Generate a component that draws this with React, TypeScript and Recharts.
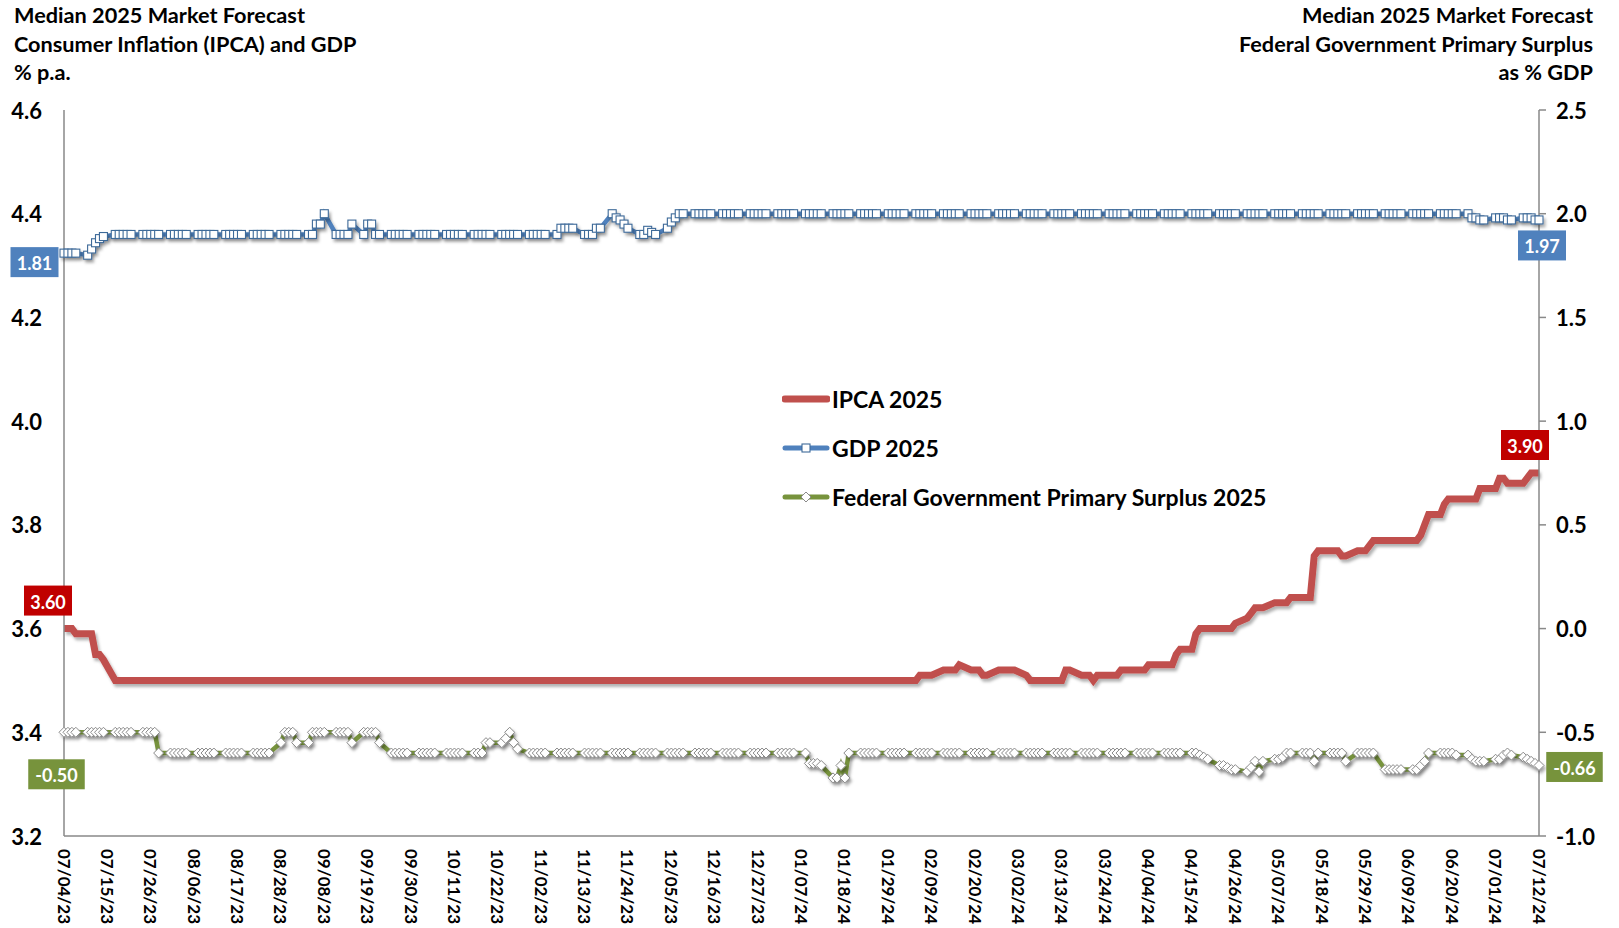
import React from "react";
import { LineChart, Line, XAxis, YAxis, Legend } from "recharts";

const FONT = "Lato, 'Open Sans', Arial, sans-serif";

const tickLabels = [
  "07/04/23", "07/15/23", "07/26/23", "08/06/23", "08/17/23", "08/28/23", "09/08/23",
  "09/19/23", "09/30/23", "10/11/23", "10/22/23", "11/02/23", "11/13/23", "11/24/23",
  "12/05/23", "12/16/23", "12/27/23", "01/07/24", "01/18/24", "01/29/24", "02/09/24",
  "02/20/24", "03/02/24", "03/13/24", "03/24/24", "04/04/24", "04/15/24", "04/26/24",
  "05/07/24", "05/18/24", "05/29/24", "06/09/24", "06/20/24", "07/01/24", "07/12/24",
];

const leftTicks = [3.2, 3.4, 3.6, 3.8, 4.0, 4.2, 4.4, 4.6];
const rightTicks = [-1.0, -0.5, 0.0, 0.5, 1.0, 1.5, 2.0, 2.5];

// one row per week of business days, first week starts Tue 07/04/23
const ipca2025 = [
  3.60, 3.60, 3.60, 3.59,             // 07/04
  3.59, 3.59, 3.55, 3.55, 3.54,       // 07/10
  3.50, 3.50, 3.50, 3.50, 3.50,       // 07/17
  3.50, 3.50, 3.50, 3.50, 3.50,       // 07/24
  3.50, 3.50, 3.50, 3.50, 3.50,       // 07/31
  3.50, 3.50, 3.50, 3.50, 3.50,       // 08/07
  3.50, 3.50, 3.50, 3.50, 3.50,       // 08/14
  3.50, 3.50, 3.50, 3.50, 3.50,       // 08/21
  3.50, 3.50, 3.50, 3.50, 3.50,       // 08/28
  3.50, 3.50, 3.50, 3.50, 3.50,       // 09/04
  3.50, 3.50, 3.50, 3.50, 3.50,       // 09/11
  3.50, 3.50, 3.50, 3.50, 3.50,       // 09/18
  3.50, 3.50, 3.50, 3.50, 3.50,       // 09/25
  3.50, 3.50, 3.50, 3.50, 3.50,       // 10/02
  3.50, 3.50, 3.50, 3.50, 3.50,       // 10/09
  3.50, 3.50, 3.50, 3.50, 3.50,       // 10/16
  3.50, 3.50, 3.50, 3.50, 3.50,       // 10/23
  3.50, 3.50, 3.50, 3.50, 3.50,       // 10/30
  3.50, 3.50, 3.50, 3.50, 3.50,       // 11/06
  3.50, 3.50, 3.50, 3.50, 3.50,       // 11/13
  3.50, 3.50, 3.50, 3.50, 3.50,       // 11/20
  3.50, 3.50, 3.50, 3.50, 3.50,       // 11/27
  3.50, 3.50, 3.50, 3.50, 3.50,       // 12/04
  3.50, 3.50, 3.50, 3.50, 3.50,       // 12/11
  3.50, 3.50, 3.50, 3.50, 3.50,       // 12/18
  3.50, 3.50, 3.50, 3.50, 3.50,       // 12/25
  3.50, 3.50, 3.50, 3.50, 3.50,       // 01/01
  3.50, 3.50, 3.50, 3.50, 3.50,       // 01/08
  3.50, 3.50, 3.50, 3.50, 3.50,       // 01/15
  3.50, 3.50, 3.50, 3.50, 3.50,       // 01/22
  3.50, 3.50, 3.50, 3.50, 3.50,       // 01/29
  3.50, 3.51, 3.51, 3.51, 3.51,       // 02/05
  3.52, 3.52, 3.52, 3.52, 3.53,       // 02/12
  3.52, 3.52, 3.52, 3.51, 3.51,       // 02/19
  3.52, 3.52, 3.52, 3.52, 3.52,       // 02/26
  3.51, 3.50, 3.50, 3.50, 3.50,       // 03/04
  3.50, 3.50, 3.50, 3.52, 3.52,       // 03/11
  3.51, 3.51, 3.51, 3.50, 3.51,       // 03/18
  3.51, 3.51, 3.51, 3.52, 3.52,       // 03/25
  3.52, 3.52, 3.52, 3.53, 3.53,       // 04/01
  3.53, 3.53, 3.53, 3.55, 3.56,       // 04/08
  3.56, 3.59, 3.60, 3.60, 3.60,       // 04/15
  3.60, 3.60, 3.60, 3.60, 3.61,       // 04/22
  3.62, 3.63, 3.64, 3.64, 3.64,       // 04/29
  3.65, 3.65, 3.65, 3.65, 3.66,       // 05/06
  3.66, 3.66, 3.66, 3.74, 3.75,       // 05/13
  3.75, 3.75, 3.75, 3.74, 3.74,       // 05/20
  3.75, 3.75, 3.75, 3.76, 3.77,       // 05/27
  3.77, 3.77, 3.77, 3.77, 3.77,       // 06/03
  3.77, 3.77, 3.78, 3.80, 3.82,       // 06/10
  3.82, 3.84, 3.85, 3.85, 3.85,       // 06/17
  3.85, 3.85, 3.85, 3.87, 3.87,       // 06/24
  3.87, 3.89, 3.89, 3.88, 3.88,       // 07/01
  3.88, 3.89, 3.90, 3.90, 3.90,       // 07/08
];

const gdp2025 = [
  1.81, 1.81, 1.81, 1.81,             // 07/04
  1.80, 1.83, 1.86, 1.88, 1.89,       // 07/10
  1.90, 1.90, 1.90, 1.90, 1.90,       // 07/17
  1.90, 1.90, 1.90, 1.90, 1.90,       // 07/24
  1.90, 1.90, 1.90, 1.90, 1.90,       // 07/31
  1.90, 1.90, 1.90, 1.90, 1.90,       // 08/07
  1.90, 1.90, 1.90, 1.90, 1.90,       // 08/14
  1.90, 1.90, 1.90, 1.90, 1.90,       // 08/21
  1.90, 1.90, 1.90, 1.90, 1.90,       // 08/28
  1.90, 1.90, 1.95, 1.95, 2.00,       // 09/04
  1.90, 1.90, 1.90, 1.90, 1.95,       // 09/11
  1.90, 1.95, 1.95, 1.90, 1.90,       // 09/18
  1.90, 1.90, 1.90, 1.90, 1.90,       // 09/25
  1.90, 1.90, 1.90, 1.90, 1.90,       // 10/02
  1.90, 1.90, 1.90, 1.90, 1.90,       // 10/09
  1.90, 1.90, 1.90, 1.90, 1.90,       // 10/16
  1.90, 1.90, 1.90, 1.90, 1.90,       // 10/23
  1.90, 1.90, 1.90, 1.90, 1.90,       // 10/30
  1.90, 1.93, 1.93, 1.93, 1.93,       // 11/06
  1.90, 1.90, 1.90, 1.93, 1.93,       // 11/13
  2.00, 1.98, 1.97, 1.95, 1.93,       // 11/20
  1.90, 1.90, 1.92, 1.91, 1.90,       // 11/27
  1.93, 1.96, 1.98, 2.00, 2.00,       // 12/04
  2.00, 2.00, 2.00, 2.00, 2.00,       // 12/11
  2.00, 2.00, 2.00, 2.00, 2.00,       // 12/18
  2.00, 2.00, 2.00, 2.00, 2.00,       // 12/25
  2.00, 2.00, 2.00, 2.00, 2.00,       // 01/01
  2.00, 2.00, 2.00, 2.00, 2.00,       // 01/08
  2.00, 2.00, 2.00, 2.00, 2.00,       // 01/15
  2.00, 2.00, 2.00, 2.00, 2.00,       // 01/22
  2.00, 2.00, 2.00, 2.00, 2.00,       // 01/29
  2.00, 2.00, 2.00, 2.00, 2.00,       // 02/05
  2.00, 2.00, 2.00, 2.00, 2.00,       // 02/12
  2.00, 2.00, 2.00, 2.00, 2.00,       // 02/19
  2.00, 2.00, 2.00, 2.00, 2.00,       // 02/26
  2.00, 2.00, 2.00, 2.00, 2.00,       // 03/04
  2.00, 2.00, 2.00, 2.00, 2.00,       // 03/11
  2.00, 2.00, 2.00, 2.00, 2.00,       // 03/18
  2.00, 2.00, 2.00, 2.00, 2.00,       // 03/25
  2.00, 2.00, 2.00, 2.00, 2.00,       // 04/01
  2.00, 2.00, 2.00, 2.00, 2.00,       // 04/08
  2.00, 2.00, 2.00, 2.00, 2.00,       // 04/15
  2.00, 2.00, 2.00, 2.00, 2.00,       // 04/22
  2.00, 2.00, 2.00, 2.00, 2.00,       // 04/29
  2.00, 2.00, 2.00, 2.00, 2.00,       // 05/06
  2.00, 2.00, 2.00, 2.00, 2.00,       // 05/13
  2.00, 2.00, 2.00, 2.00, 2.00,       // 05/20
  2.00, 2.00, 2.00, 2.00, 2.00,       // 05/27
  2.00, 2.00, 2.00, 2.00, 2.00,       // 06/03
  2.00, 2.00, 2.00, 2.00, 2.00,       // 06/10
  2.00, 2.00, 2.00, 2.00, 2.00,       // 06/17
  2.00, 1.98, 1.98, 1.97, 1.97,       // 06/24
  1.98, 1.98, 1.98, 1.97, 1.97,       // 07/01
  1.98, 1.98, 1.98, 1.97, 1.97,       // 07/08
];

const surplus2025 = [
  -0.50, -0.50, -0.50, -0.50,         // 07/04
  -0.50, -0.50, -0.50, -0.50, -0.50,  // 07/10
  -0.50, -0.50, -0.50, -0.50, -0.50,  // 07/17
  -0.50, -0.50, -0.50, -0.50, -0.60,  // 07/24
  -0.60, -0.60, -0.60, -0.60, -0.60,  // 07/31
  -0.60, -0.60, -0.60, -0.60, -0.60,  // 08/07
  -0.60, -0.60, -0.60, -0.60, -0.60,  // 08/14
  -0.60, -0.60, -0.60, -0.60, -0.60,  // 08/21
  -0.55, -0.50, -0.50, -0.50, -0.55,  // 08/28
  -0.55, -0.50, -0.50, -0.50, -0.50,  // 09/04
  -0.50, -0.50, -0.50, -0.50, -0.55,  // 09/11
  -0.50, -0.50, -0.50, -0.50, -0.55,  // 09/18
  -0.60, -0.60, -0.60, -0.60, -0.60,  // 09/25
  -0.60, -0.60, -0.60, -0.60, -0.60,  // 10/02
  -0.60, -0.60, -0.60, -0.60, -0.60,  // 10/09
  -0.60, -0.60, -0.60, -0.55, -0.55,  // 10/16
  -0.55, -0.53, -0.50, -0.55, -0.58,  // 10/23
  -0.60, -0.60, -0.60, -0.60, -0.60,  // 10/30
  -0.60, -0.60, -0.60, -0.60, -0.60,  // 11/06
  -0.60, -0.60, -0.60, -0.60, -0.60,  // 11/13
  -0.60, -0.60, -0.60, -0.60, -0.60,  // 11/20
  -0.60, -0.60, -0.60, -0.60, -0.60,  // 11/27
  -0.60, -0.60, -0.60, -0.60, -0.60,  // 12/04
  -0.60, -0.60, -0.60, -0.60, -0.60,  // 12/11
  -0.60, -0.60, -0.60, -0.60, -0.60,  // 12/18
  -0.60, -0.60, -0.60, -0.60, -0.60,  // 12/25
  -0.60, -0.60, -0.60, -0.60, -0.60,  // 01/01
  -0.60, -0.65, -0.65, -0.65, -0.66,  // 01/08
  -0.72, -0.72, -0.66, -0.72, -0.60,  // 01/15
  -0.60, -0.60, -0.60, -0.60, -0.60,  // 01/22
  -0.60, -0.60, -0.60, -0.60, -0.60,  // 01/29
  -0.60, -0.60, -0.60, -0.60, -0.60,  // 02/05
  -0.60, -0.60, -0.60, -0.60, -0.60,  // 02/12
  -0.60, -0.60, -0.60, -0.60, -0.60,  // 02/19
  -0.60, -0.60, -0.60, -0.60, -0.60,  // 02/26
  -0.60, -0.60, -0.60, -0.60, -0.60,  // 03/04
  -0.60, -0.60, -0.60, -0.60, -0.60,  // 03/11
  -0.60, -0.60, -0.60, -0.60, -0.60,  // 03/18
  -0.60, -0.60, -0.60, -0.60, -0.60,  // 03/25
  -0.60, -0.60, -0.60, -0.60, -0.60,  // 04/01
  -0.60, -0.60, -0.60, -0.60, -0.60,  // 04/08
  -0.60, -0.60, -0.61, -0.62, -0.63,  // 04/15
  -0.66, -0.66, -0.67, -0.68, -0.68,  // 04/22
  -0.69, -0.67, -0.64, -0.69, -0.64,  // 04/29
  -0.63, -0.63, -0.62, -0.60, -0.60,  // 05/06
  -0.60, -0.60, -0.60, -0.64, -0.60,  // 05/13
  -0.60, -0.60, -0.60, -0.60, -0.64,  // 05/20
  -0.60, -0.60, -0.60, -0.60, -0.60,  // 05/27
  -0.68, -0.68, -0.68, -0.68, -0.68,  // 06/03
  -0.68, -0.68, -0.66, -0.64, -0.60,  // 06/10
  -0.60, -0.60, -0.60, -0.60, -0.61,  // 06/17
  -0.61, -0.63, -0.64, -0.64, -0.64,  // 06/24
  -0.63, -0.63, -0.61, -0.60, -0.61,  // 07/01
  -0.62, -0.63, -0.64, -0.65, -0.66,  // 07/08
];

const START = Date.UTC(2023, 6, 4);
const dayOf = (label: string) => {
  const [m, d, y] = label.split("/").map(Number);
  return Math.round((Date.UTC(2000 + y, m - 1, d) - START) / 86400000);
};

// weekdays from the start date, one per value
const days: number[] = [];
for (let d = 0; days.length < ipca2025.length; d++) {
  const wd = new Date(START + d * 86400000).getUTCDay();
  if (wd !== 0 && wd !== 6) days.push(d);
}

const data = days.map((day, i) => ({
  day,
  ipca: ipca2025[i],
  gdp: gdp2025[i],
  surplus: surplus2025[i],
}));

const xTicks = tickLabels.map(dayOf);
const lastIndex = data.length - 1;

const RED = "#C0504D";
const BLUE = "#4F81BD";
const GREEN = "#77933C";
const AXIS = "#898989";

const SquareDot = (props: any) => {
  const { cx, cy, index } = props;
  if (cx == null || cy == null) return <g key={`s${index}`} />;
  return (
    <rect key={`s${index}`} x={cx - 4} y={cy - 4} width={8} height={8}
      fill="#fff" stroke="#3E6A99" strokeWidth={1.1} />
  );
};

const DiamondDot = (props: any) => {
  const { cx, cy, index } = props;
  if (cx == null || cy == null) return <g key={`d${index}`} />;
  return (
    <polygon key={`d${index}`}
      points={`${cx},${cy - 5} ${cx + 5},${cy} ${cx},${cy + 5} ${cx - 5},${cy}`}
      fill="#fff" stroke="#8A8A8A" strokeWidth={1} />
  );
};

// value boxes at the first and last point of each series
const endLabel = (fill: string, first: [number, number], last: [number, number]) =>
  (props: any) => {
    const { x, y, index, value } = props;
    if (index !== 0 && index !== lastIndex) return <g key={`l${index}`} />;
    const [dx, dy] = index === 0 ? first : last;
    const text = Number(value).toFixed(2);
    const w = 8.5 * text.length + 14;
    const h = 30;
    const cx = x + dx;
    const cy = y + dy;
    return (
      <g key={`l${index}`}>
        <rect x={cx - w / 2} y={cy - h / 2} width={w} height={h} fill={fill} />
        <text x={cx} y={cy + 1} textAnchor="middle" dominantBaseline="central"
          fontFamily={FONT} fontWeight={700} fontSize={18} fill="#fff">{text}</text>
      </g>
    );
  };

const LeftTick = (props: any) => (
  <text x={props.x - 22} y={props.y} textAnchor="end" dominantBaseline="central"
    fontFamily={FONT} fontWeight={700} fontSize={22} fill="#000">
    {Number(props.payload.value).toFixed(1)}
  </text>
);

const RightTick = (props: any) => (
  <text x={props.x + 10} y={props.y} textAnchor="start" dominantBaseline="central"
    fontFamily={FONT} fontWeight={700} fontSize={22} fill="#000">
    {Number(props.payload.value).toFixed(1)}
  </text>
);

const DateTick = (props: any) => {
  const label = tickLabels[xTicks.indexOf(props.payload.value)] ?? "";
  return (
    <text transform={`translate(${props.x},${props.y + 13}) rotate(90)`}
      textAnchor="start" dominantBaseline="central"
      fontFamily={FONT} fontWeight={700} fontSize={17} fill="#000">
      {label}
    </text>
  );
};

const legendOrder = ["ipca", "gdp", "surplus"];
const legendMarkers: Record<string, { color: string; width: number; marker: string }> = {
  ipca: { color: RED, width: 7, marker: "none" },
  gdp: { color: BLUE, width: 5, marker: "square" },
  surplus: { color: GREEN, width: 5, marker: "diamond" },
};

const renderLegend = (props: any) => {
  const entries = [...(props.payload || [])].sort(
    (a: any, b: any) => legendOrder.indexOf(a.dataKey) - legendOrder.indexOf(b.dataKey)
  );
  return (
    <div style={{ fontFamily: FONT }}>
      {entries.map((entry: any) => {
        const m = legendMarkers[entry.dataKey as string];
        return (
          <div key={entry.value} style={{ display: "flex", alignItems: "center", height: 49 }}>
            <svg width={48} height={14} style={{ marginRight: 2 }}>
              <line x1={3} y1={7} x2={45} y2={7} stroke={m.color} strokeWidth={m.width}
                strokeLinecap="round" />
              {m.marker === "square" && (
                <rect x={20} y={3} width={8} height={8} fill="#fff" stroke="#3E6A99" strokeWidth={1.1} />
              )}
              {m.marker === "diamond" && (
                <polygon points="24,2 29,7 24,12 19,7" fill="#fff" stroke="#8A8A8A" strokeWidth={1} />
              )}
            </svg>
            <span style={{ fontSize: 23, fontWeight: 700, color: "#000", whiteSpace: "nowrap" }}>
              {entry.value}
            </span>
          </div>
        );
      })}
    </div>
  );
};

const titleStyle: React.CSSProperties = {
  position: "absolute",
  top: 1,
  fontFamily: FONT,
  fontWeight: 700,
  fontSize: 21.7,
  lineHeight: "28.5px",
  color: "#000",
};

export default function App() {
  return (
    <div style={{ position: "absolute", left: 0, top: 0, width: 1619, height: 928, background: "#fff" }}>
      <style>{`
        .recharts-line-curve, .recharts-line-dots { filter: url(#lineShadow); }
      `}</style>
      <svg width={0} height={0} style={{ position: "absolute" }}>
        <defs>
          <filter id="lineShadow" x="-5%" y="-40%" width="110%" height="180%">
            <feDropShadow dx={2} dy={3} stdDeviation={1.6} floodColor="#000" floodOpacity={0.3} />
          </filter>
        </defs>
      </svg>
      <div style={{ ...titleStyle, left: 14 }}>
        Median 2025 Market Forecast<br />
        Consumer Inflation (IPCA) and GDP<br />
        % p.a.
      </div>
      <div style={{ ...titleStyle, right: 26, textAlign: "right" }}>
        Median 2025 Market Forecast<br />
        Federal Government Primary Surplus<br />
        as % GDP
      </div>
      <LineChart width={1619} height={928} data={data}
        margin={{ top: 110, right: 0, bottom: 0, left: 0 }}>
        <XAxis dataKey="day" type="number" domain={[0, xTicks[xTicks.length - 1]]}
          ticks={xTicks} interval={0} tickLine={false} tickSize={0} tickMargin={0}
          height={92} stroke={AXIS} strokeWidth={1.5} tick={<DateTick />} />
        <YAxis yAxisId="left" domain={[3.2, 4.6]} ticks={leftTicks} interval={0}
          width={64} tickLine={false} tickSize={0} tickMargin={0}
          stroke={AXIS} strokeWidth={1.5} tick={<LeftTick />} />
        <YAxis yAxisId="right" orientation="right" domain={[-1, 2.5]} ticks={rightTicks}
          interval={0} width={80} tickSize={7} tickMargin={0}
          stroke={AXIS} strokeWidth={1.5} tick={<RightTick />} />
        <Legend layout="vertical" align="center" verticalAlign="middle"
          wrapperStyle={{ left: 782, top: 374, width: 560 }} content={renderLegend} />
        <Line yAxisId="left" dataKey="ipca" name="IPCA 2025" type="linear"
          stroke={RED} strokeWidth={7} dot={false} isAnimationActive={false}
          label={endLabel("#C00000", [-16, -28], [-14, -28])} />
        <Line yAxisId="right" dataKey="gdp" name="GDP 2025" type="linear"
          stroke={BLUE} strokeWidth={4.5} dot={SquareDot} activeDot={false}
          isAnimationActive={false}
          label={endLabel(BLUE, [-29.5, 9], [3, 25.5])} />
        <Line yAxisId="right" dataKey="surplus" name="Federal Government Primary Surplus 2025"
          type="linear" stroke={GREEN} strokeWidth={4.5} dot={DiamondDot} activeDot={false}
          isAnimationActive={false}
          label={endLabel(GREEN, [-7.5, 42], [35.5, 1.5])} />
      </LineChart>
    </div>
  );
}
